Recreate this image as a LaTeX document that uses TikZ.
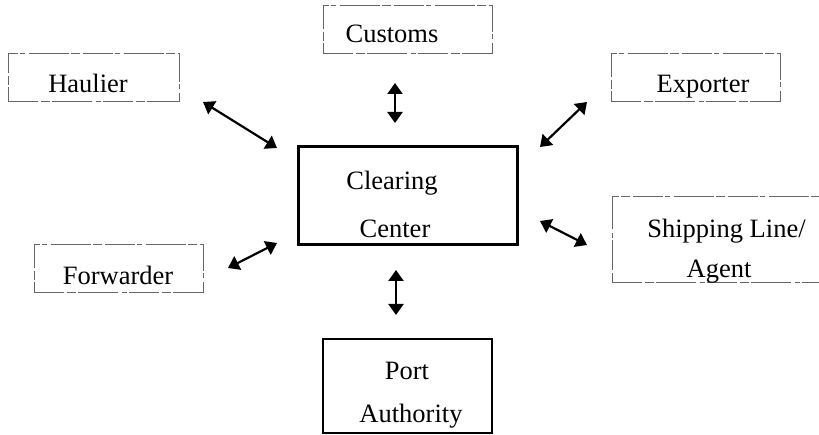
\documentclass[tikz,border=0pt]{standalone}
\usepackage{fontspec}
\setmainfont{Liberation Serif}
\usetikzlibrary{arrows.meta}
\begin{document}
\begin{tikzpicture}[x=1pt,y=-1pt,
  faintbox/.style={draw=black!60,line width=0.9pt,
    dash pattern=on 30pt off 3pt on 9pt off 2pt on 40pt off 4pt on 5pt off 2pt,
    inner sep=0pt,outer sep=0pt},
  solidbox/.style={draw=black,line width=1.3pt,inner sep=0pt,outer sep=0pt},
  thickbox/.style={draw=black,line width=3pt,inner sep=0pt,outer sep=0pt},
  lbl/.style={anchor=base,inner sep=0pt,font=\fontsize{26.5}{30}\selectfont},
  biarrow/.style={line width=2.2pt,{Triangle[length=11pt,width=15pt]}-{Triangle[length=11pt,width=15pt]}}]
\useasboundingbox (0,0) rectangle (819,435);
\begin{scope}
\clip (0,0) rectangle (819,435);
% boxes
\node[faintbox,minimum width=171pt,minimum height=48pt] (hau) at (93.5,77) {};
\node[faintbox,minimum width=169pt,minimum height=48pt] (cus) at (407.5,29) {};
\node[faintbox,minimum width=169pt,minimum height=48pt] (exp) at (695.5,77) {};
\node[faintbox,minimum width=169pt,minimum height=48pt] (fwd) at (118.5,268) {};
\node[faintbox,minimum width=220pt,minimum height=86pt] (shp) at (722,239) {};
\node[thickbox,minimum width=219pt,minimum height=98pt] (cc) at (407.5,196) {};
\node[solidbox,minimum width=169pt,minimum height=94pt] (port) at (407.5,386) {};
\end{scope}
% texts
\node[lbl] (thau) at (88,93) {Haulier};
\node[lbl] (tcus) at (392,43) {Customs};
\node[lbl] (texp) at (703,93) {Exporter};
\node[lbl] (tcc1) at (392,190) {Clearing};
\node[lbl] (tcc2) at (395,238) {Center};
\node[lbl] (tfwd) at (118,285) {Forwarder};
\node[lbl] (tshp1) at (726.5,238) {Shipping Line/};
\node[lbl] (tshp2) at (719,278) {Agent};
\node[lbl] (tport1) at (407,380) {Port};
\node[lbl] (tport2) at (411,422) {Authority};
% connectors
\draw[biarrow] ([shift={(24,1)}]hau.south east) -- ([shift={(-21,1)}]cc.north west);
\draw[biarrow] ([shift={(-12.5,30)}]cus.south) -- ([shift={(-12.5,-24)}]cc.north);
\draw[biarrow] ([shift={(-24,1)}]exp.south west) -- ([shift={(23,0)}]cc.north east);
\draw[biarrow] ([shift={(23,25)}]cc.east) -- ([shift={(-25,6)}]shp.west);
\draw[biarrow] ([shift={(25,0)}]fwd.east) -- ([shift={(-21,-2)}]cc.south west);
\draw[biarrow] ([shift={(-11.5,25)}]cc.south) -- ([shift={(-11.5,-24)}]port.north);
\end{tikzpicture}
\end{document}
